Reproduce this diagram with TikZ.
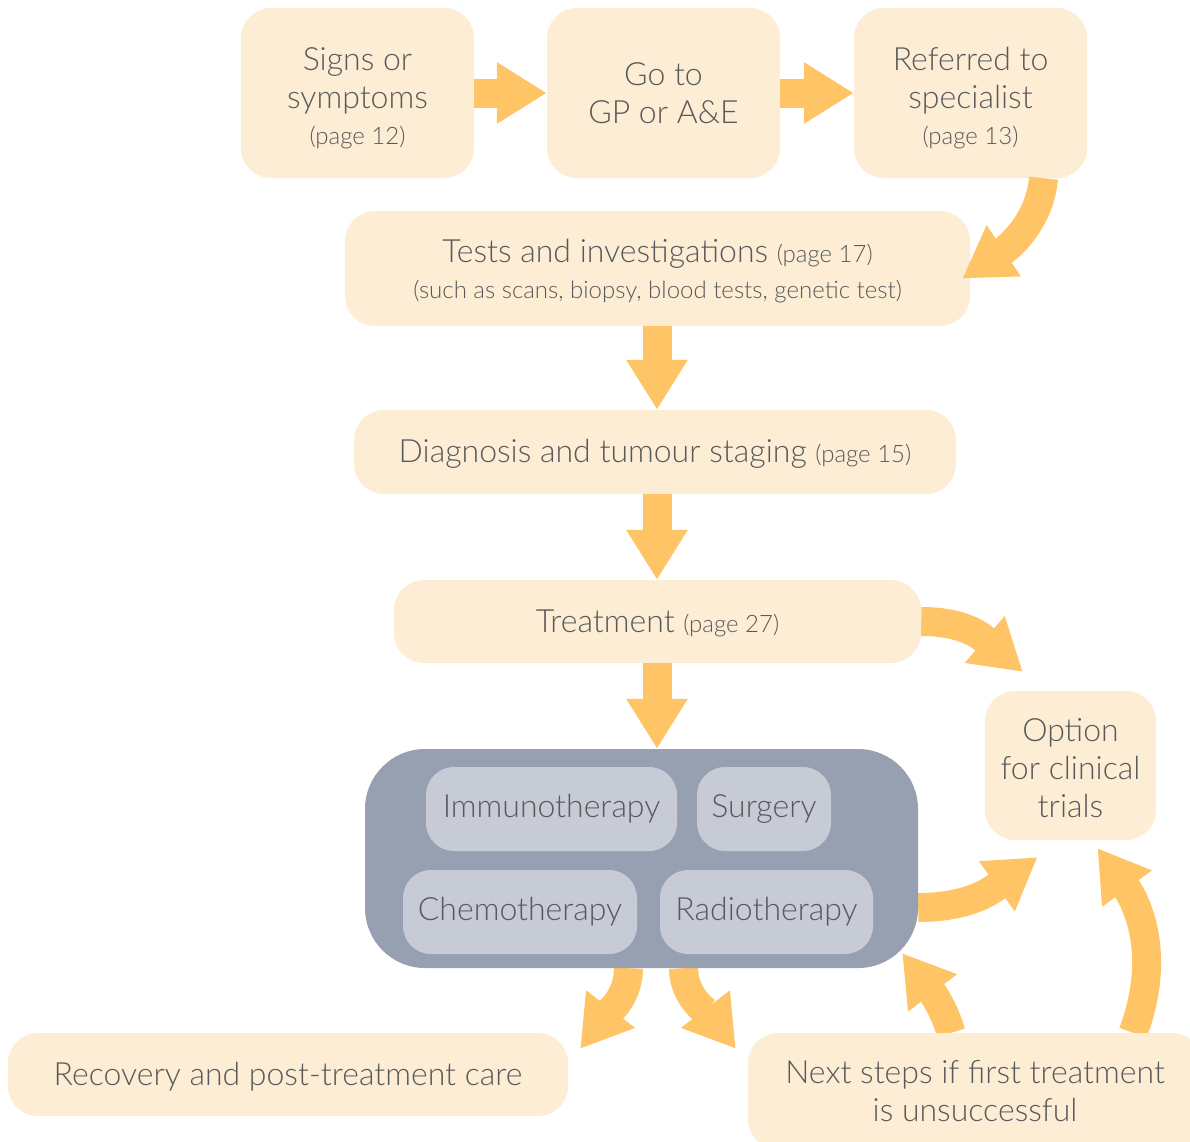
\documentclass[tikz,border=0pt]{standalone}
\usepackage{fontspec}
\setmainfont{Lato}[UprightFont={* Light}]
\usetikzlibrary{arrows.meta,calc}
\definecolor{boxc}{HTML}{FDEDD4}
\definecolor{arrc}{HTML}{FEC465}
\definecolor{txtc}{HTML}{58595B}
\definecolor{darkc}{HTML}{97A0B0}
\definecolor{innerc}{HTML}{C6CBD5}
\pgfdeclarelayer{bg}
\pgfsetlayers{bg,main}
\newcommand{\bigt}{\fontsize{32}{38}\selectfont}
\newcommand{\smt}{\fontsize{24}{28}\selectfont}
\tikzset{
  pbox/.style={rectangle, rounded corners=30, fill=boxc, text=txtc, align=center, inner sep=0pt, font=\bigt},
  ptext/.style={text=txtc, align=center, inner sep=0pt, font=\bigt},
  tbox/.style={rectangle, rounded corners=28, fill=innerc, text=txtc, align=center, inner sep=0pt, font=\bigt, minimum height=84},
  fat/.style={draw=arrc, line width=29, -{Triangle[length=50,width=58]}},
}
\begin{document}
\begin{tikzpicture}[x=1pt,y=-1pt]
\useasboundingbox (0,0) rectangle (1190,1141);
\clip (0,0) rectangle (1190,1141);

\node[pbox, minimum width=233, minimum height=170,
  label={[ptext, yshift=-5]center:Signs or\\symptoms\\[-2pt]{\smt (page 12)}}] (signs) at (357.5,93) {};
\node[pbox, minimum width=233, minimum height=170] (gp) at (663.5,93) {Go to\\GP or A\&E};
\node[pbox, minimum width=233, minimum height=170,
  label={[ptext, yshift=-5]center:Referred to\\specialist\\[-2pt]{\smt (page 13)}}] (ref) at (970.5,93) {};
\node[pbox, minimum width=625, minimum height=115,
  label={[ptext, yshift=-3]center:Tests and investigations {\smt (page 17)}\\[-2pt]{\fontsize{24}{28}\selectfont (such as scans, biopsy, blood tests, genetic test)}}] (tests) at (657.5,268.5) {};
\node[pbox, minimum width=602, minimum height=84,
  label={[ptext, yshift=-2]center:Diagnosis and tumour staging {\smt (page 15)}}] (diag) at (655,452) {};
\node[pbox, minimum width=527, minimum height=83,
  label={[ptext, yshift=-2]center:Treatment {\smt (page 27)}}] (treat) at (657.5,621.5) {};
\node[rectangle, rounded corners=60, fill=darkc, minimum width=553, minimum height=219] (dark) at (641.5,858.5) {};
\node[tbox, minimum width=251] (immuno) at (551.5,809) {Immunotherapy};
\node[tbox, minimum width=134] (surg) at (764,809) {Surgery};
\node[tbox, minimum width=234] (chemo) at (520,912) {Chemotherapy};
\node[tbox, minimum width=213] (radio) at (766.5,912) {Radiotherapy};
\node[pbox, minimum width=171, minimum height=149,
  label={[ptext, yshift=-3]center:Option\\for clinical\\trials}] (opt) at (1070.5,765.5) {};
\node[pbox, minimum width=560, minimum height=83,
  label={[ptext, yshift=-2]center:Recovery and post-treatment care}] (rec) at (288,1074.5) {};
\node[pbox, minimum width=454, minimum height=116] (next) at (975,1091) {Next steps if first treatment\\is unsuccessful};

% straight arrows
\draw[fat] (signs.east) -- (gp.west);
\draw[fat] (gp.east) -- (ref.west);
\draw[fat] (tests.south -| 657,0) -- (diag.north -| 657,0);
\draw[fat] (diag.south -| 657,0) -- (treat.north -| 657,0);
\draw[fat] (treat.south -| 657,0) -- (dark.north -| 657,0);

% curved arrows
\draw[fat] ([xshift=73]ref.south) .. controls +(-4,45) and +(45,-30) .. ($(tests.east)+(-8,10)$);
\begin{pgfonlayer}{bg}
\draw[fat] (treat.east) .. controls +(45,0) and +(-40,-34) .. ($(opt.north west)+(38,-19)$);
\draw[fat] ([yshift=-49]dark.east) .. controls +(55,0) and +(-42,30) .. ($(opt.south)+(-33,17)$);
\draw[fat] ([xshift=-24]next.north) .. controls +(-8,-28) and +(26,34) .. ($(dark.south east)+(-16,-15)$);
\draw[fat] ([xshift=158]next.north) .. controls +(30,-80) and +(38,52) .. ($(opt.south)+(27,8)$);
\draw[fat] ([xshift=-13]dark.south) .. controls +(0,30) and +(26,-34) .. ($(rec.north east)+(12,16)$);
\draw[fat] ([xshift=42]dark.south) .. controls +(0,30) and +(-26,-34) .. ($(next.north west)+(-12,16)$);
\end{pgfonlayer}
\end{tikzpicture}
\end{document}
